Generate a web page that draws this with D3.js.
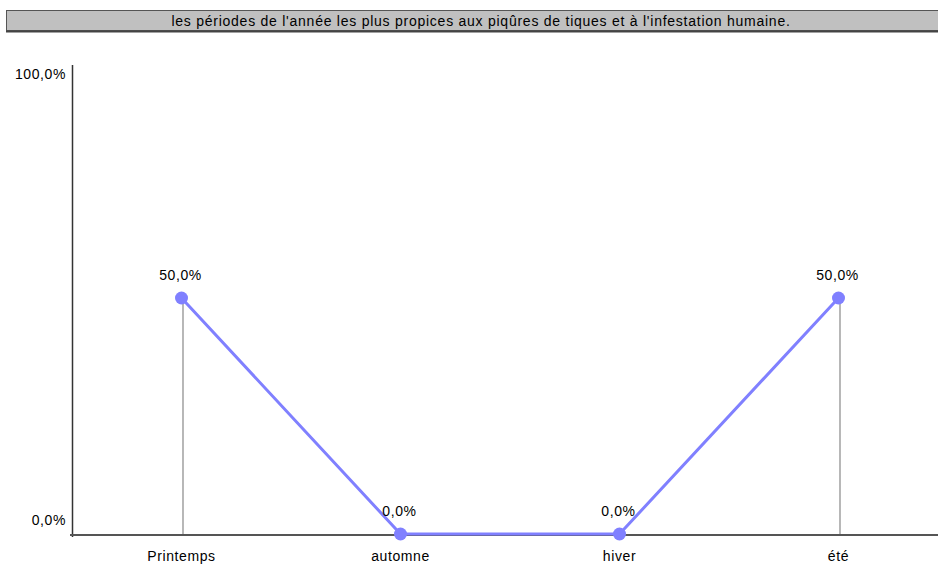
<!DOCTYPE html>
<html>
<head>
<meta charset="utf-8">
<script src="https://cdn.jsdelivr.net/npm/d3@7"></script>
<style>
  html, body { margin: 0; padding: 0; background: #fff; }
  svg { display: block; font-family: "Liberation Sans", Arial, sans-serif; }
</style>
</head>
<body>
<svg id="chart" width="938" height="565"></svg>
<script>
// Season labels and share of answers (%)
const seasons = ["Printemps", "automne", "hiver", "été"];
const shares = [50, 0, 0, 50];
const yTicks = [0, 100];
const titleText = "les périodes de l'année les plus propices aux piqûres de tiques et à l'infestation humaine.";

const svg = d3.select("#chart");
const W = 938, H = 565;

const fmt = v => d3.format(".1f")(v).replace(".", ",") + "%";

// Title banner
svg.append("rect")
  .attr("x", 6.5).attr("y", 10.5)
  .attr("width", 940).attr("height", 20)
  .attr("fill", "#c0c0c0")
  .attr("stroke", "#555").attr("stroke-width", 1);
svg.append("line")
  .attr("x1", 6).attr("x2", W).attr("y1", 31.5).attr("y2", 31.5)
  .attr("stroke", "#444").attr("stroke-width", 2);
svg.append("text")
  .attr("x", 481).attr("y", 26)
  .attr("text-anchor", "middle")
  .attr("font-size", 14)
  .attr("letter-spacing", 0.75)
  .attr("fill", "#000")
  .text(titleText);

// Scales
const x = d3.scaleBand().domain(seasons).range([72, 948]);
const y = d3.scaleLinear().domain([0, 100]).range([534, 62]);
// tick labels sit a little inside the value range
const yLabel = d3.scaleLinear().domain([0, 100]).range([525, 79]);

const cx = s => x(s) + x.bandwidth() / 2;

// Axes
svg.append("line")
  .attr("x1", 72.5).attr("x2", 72.5).attr("y1", 65).attr("y2", 537)
  .attr("stroke", "#333").attr("stroke-width", 1.5);
svg.append("line")
  .attr("x1", 70).attr("x2", W).attr("y1", 535).attr("y2", 535)
  .attr("stroke", "#555").attr("stroke-width", 2);

svg.append("g").selectAll("text")
  .data(yTicks).join("text")
  .attr("x", 66).attr("y", d => yLabel(d))
  .attr("text-anchor", "end")
  .attr("font-size", 14)
  .attr("letter-spacing", 0.6)
  .attr("fill", "#000")
  .text(d => fmt(d));

svg.append("g").selectAll("text")
  .data(seasons).join("text")
  .attr("x", d => cx(d)).attr("y", 561)
  .attr("text-anchor", "middle")
  .attr("font-size", 14)
  .attr("letter-spacing", 0.6)
  .attr("fill", "#000")
  .text(d => d);

const pts = seasons.map((s, i) => ({ s, v: shares[i] }));

// Drop lines from each point to the baseline
svg.append("g").selectAll("line")
  .data(pts.filter(d => d.v > 0)).join("line")
  .attr("x1", d => cx(d.s) + 1.5).attr("x2", d => cx(d.s) + 1.5)
  .attr("y1", d => y(d.v)).attr("y2", 534)
  .attr("stroke", "#888").attr("stroke-width", 1.2);

// Series line
svg.append("path")
  .datum(pts)
  .attr("fill", "none")
  .attr("stroke", "#8080ff")
  .attr("stroke-width", 3)
  .attr("d", d3.line().x(d => cx(d.s)).y(d => y(d.v)));

svg.append("g").selectAll("circle")
  .data(pts).join("circle")
  .attr("cx", d => cx(d.s)).attr("cy", d => y(d.v))
  .attr("r", 6.5)
  .attr("fill", "#8080ff");

// Value labels
svg.append("g").selectAll("text")
  .data(pts).join("text")
  .attr("x", d => cx(d.s) - 1).attr("y", d => y(d.v) - 18)
  .attr("text-anchor", "middle")
  .attr("font-size", 14)
  .attr("letter-spacing", 0.6)
  .attr("fill", "#000")
  .text(d => fmt(d.v));
</script>
</body>
</html>
